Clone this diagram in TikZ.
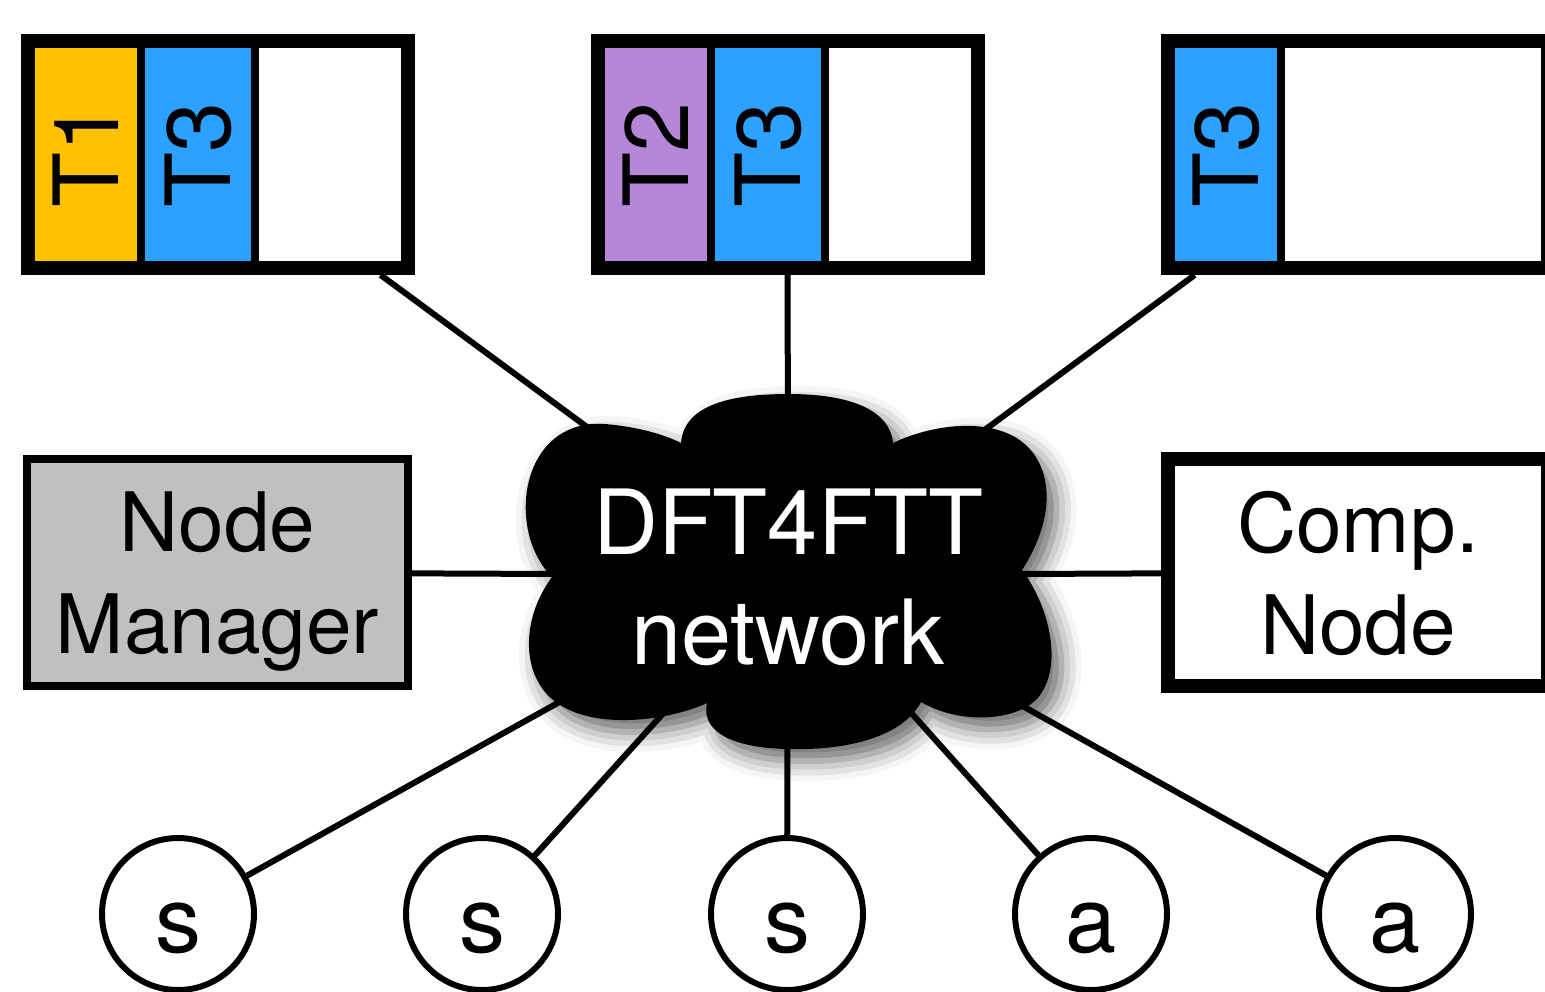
\documentclass[tikz,border=0pt]{standalone}
\usepackage{fontspec}
\setmainfont{TeX Gyre Heros}
\usepackage{xcolor}
\usetikzlibrary{shadows.blur}

\definecolor{slotyellow}{RGB}{255,192,0}
\definecolor{slotblue}{RGB}{44,161,255}
\definecolor{slotpurple}{RGB}{182,135,216}
\definecolor{mgrgray}{RGB}{192,192,192}

\begin{document}
\begin{tikzpicture}[x=0.5pt, y=-0.5pt,
    tdmabox/.style={draw, line width=7pt, minimum width=190pt, minimum height=113.5pt, inner sep=0pt},
    slotlabel/.style={rotate=90, inner sep=0pt, font=\fontsize{45}{50}\selectfont},
    slotsep/.style={line width=4pt},
    link/.style={line width=3pt},
    sidebox/.style={draw, align=center, minimum width=190pt, minimum height=113.5pt, inner sep=0pt, text depth=0pt, font=\fontsize{41}{51}\selectfont},
    station/.style={circle, draw, line width=3pt, fill=white, minimum size=76pt, inner sep=0pt, text height=40pt, text depth=2pt, font=\fontsize{46}{50}\selectfont}]
    \clip (0,0) rectangle (1545,991);

    % centre of the network cloud
    \coordinate (netc) at (788,575);

    % TDMA frame, node 1
    \fill[slotyellow] (35,48) rectangle (137,261);
    \fill[slotblue] (145,48) rectangle (251,261);
    \draw[slotsep] (141,48) -- (141,261);
    \draw[slotsep] (255,48) -- (255,261);
    \node[slotlabel] (f1s1) at (86,154.5) {T1};
    \node[slotlabel] (f1s2) at (198,154.5) {T3};
    \node[tdmabox] (tdma1) at (217.5,154.5) {};

    % TDMA frame, node 2
    \fill[slotpurple] (605,48) rectangle (707,261);
    \fill[slotblue] (715,48) rectangle (821,261);
    \draw[slotsep] (711,48) -- (711,261);
    \draw[slotsep] (825,48) -- (825,261);
    \node[slotlabel] (f2s1) at (656,154.5) {T2};
    \node[slotlabel] (f2s2) at (768,154.5) {T3};
    \node[tdmabox] (tdma2) at (787.5,154.5) {};

    % TDMA frame, node 3
    \fill[slotblue] (1175,48) rectangle (1277,261);
    \draw[slotsep] (1281,48) -- (1281,261);
    \node[slotlabel] (f3s1) at (1226,154.5) {T3};
    \node[tdmabox] (tdma3) at (1357.5,154.5) {};

    % side nodes
    \node[sidebox, fill=mgrgray, line width=4pt, minimum width=190.5pt] (mgr) at (217.5,572.5) {Node\\Manager};
    \node[sidebox, line width=7pt] (comp) at (1358,572.5) {Comp.\\Node};

    % sensors and actuators
    \foreach \x/\lbl [count=\i] in {178/s, 482/s, 787/s, 1091/a, 1395/a}
        \node[station] (st\i) at (\x,914) {\lbl};

    % links to the network
    \draw[link] (netc) -- (tdma1);
    \draw[link] (netc) -- (tdma2);
    \draw[link] (netc) -- (tdma3);
    \draw[link] (netc) -- (mgr);
    \draw[link] (netc) -- (comp);
    \foreach \i in {1,...,5}
        \draw[link] (netc) -- (st\i);

    % network cloud
    \fill[blur shadow={shadow xshift=5pt, shadow yshift=-6pt, shadow blur radius=10pt, shadow opacity=60}]
        (552,577) .. controls (505,530) and (520,418) .. (605,424)
        .. controls (640,427) and (665,435) .. (681,443)
        .. controls (684,405) and (730,394) .. (789,394)
        .. controls (850,394) and (890,410) .. (893,443)
        .. controls (940,420) and (1030,410) .. (1045,480)
        .. controls (1052,515) and (1035,550) .. (1022,570)
        .. controls (1045,600) and (1065,660) .. (1040,695)
        .. controls (1020,722) and (960,725) .. (921,702)
        .. controls (900,740) and (840,750) .. (793,749)
        .. controls (740,749) and (700,735) .. (707,703)
        .. controls (670,720) and (600,730) .. (560,705)
        .. controls (520,680) and (520,620) .. (552,577) -- cycle;
    \node[text=white, align=center, inner sep=0pt, font=\fontsize{45}{55}\selectfont] (net) at (788,577) {DFT4FTT\\network};
\end{tikzpicture}
\end{document}
